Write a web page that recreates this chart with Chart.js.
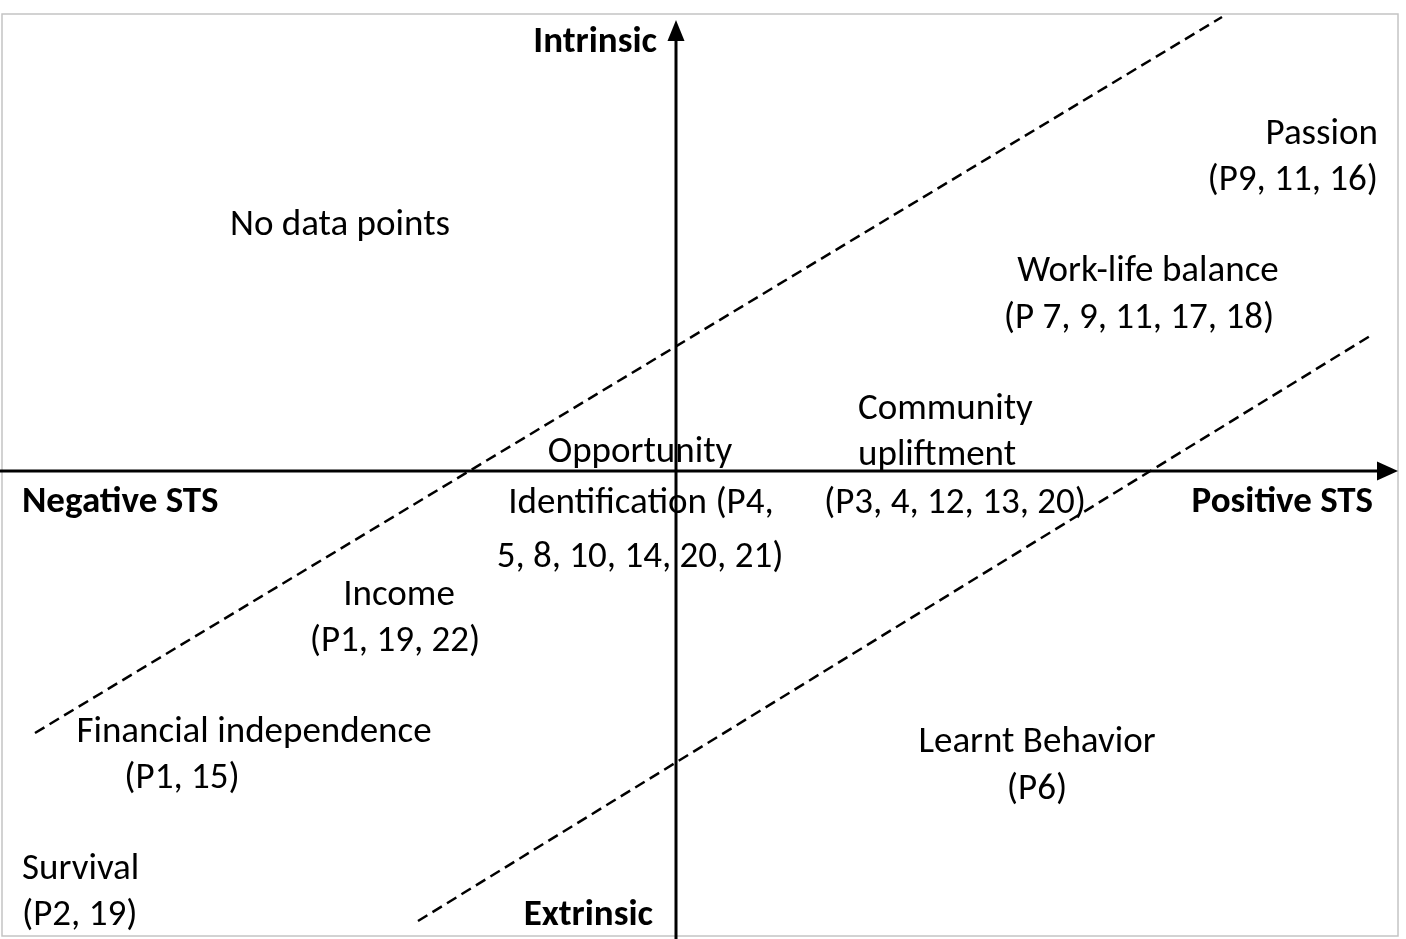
<!DOCTYPE html>
<html>
<head>
<meta charset="utf-8">
<script src="https://cdn.jsdelivr.net/npm/chart.js@4/dist/chart.umd.min.js"></script>
<style>
  html, body { margin: 0; padding: 0; background: #ffffff; }
  #wrap { position: relative; width: 1406px; height: 939px; }
</style>
</head>
<body>
<div id="wrap"><canvas id="c"></canvas></div>
<script>
// ---- Data (conceptual units, origin at the axis crossing) ----
const axisXRange = [-6.76, 7.22];   // horizontal axis: Negative STS -> Positive STS
const axisYRange = [-4.68, 4.51];   // vertical axis: Extrinsic -> Intrinsic
const frameX = [-6.74, 7.22];
const frameY = [-4.65, 4.57];

const upperDividerX = [-6.41, 5.46];
const upperDividerY = [-2.62, 4.54];
const lowerDividerX = [-2.58, 6.94];
const lowerDividerY = [-4.50, 1.35];

const axisTitles = ["Intrinsic", "Negative STS", "Positive STS", "Extrinsic"];
const axisTitleX = [-0.19, -6.54, 6.97, -0.23];
const axisTitleY = [4.28, -0.32, -0.32, -4.45];
const axisTitleAlign = ["right", "left", "right", "right"];

const labelTexts = [
  "No data points",
  "Passion", "(P9, 11, 16)",
  "Work-life balance", "(P 7, 9, 11, 17, 18)",
  "Community", "upliftment", "(P3, 4, 12, 13, 20)",
  "Opportunity", "Identification (P4,", "5, 8, 10, 14, 20, 21)",
  "Income", "(P1, 19, 22)",
  "Financial independence", "(P1, 15)",
  "Learnt Behavior", "(P6)",
  "Survival", "(P2, 19)"
];
const labelX = [
  -3.36,
  7.02, 7.02,
  4.72, 4.63,
  1.82, 1.82, 1.48,
  -0.36, -0.35, -0.36,
  -2.77, -2.81,
  -4.22, -4.94,
  3.61, 3.61,
  -6.54, -6.54
];
const labelY = [
  2.45,
  3.36, 2.90,
  1.99, 1.52,
  0.61, 0.15, -0.33,
  0.18, -0.33, -0.87,
  -1.25, -1.71,
  -2.62, -3.08,
  -2.72, -3.19,
  -3.99, -4.45
];
const labelAlign = [
  "center",
  "right", "right",
  "center", "center",
  "left", "left", "left",
  "center", "center", "center",
  "center", "center",
  "center", "center",
  "center", "center",
  "left", "left"
];

const FONT = "Carlito, Lato, 'Open Sans', sans-serif";

const diagramPlugin = {
  id: 'diagram',
  beforeDatasetsDraw(chart) {
    const {ctx, scales: {x, y}} = chart;
    ctx.save();
    ctx.strokeStyle = '#c4c4c4';
    ctx.lineWidth = 1.5;
    const l = x.getPixelForValue(frameX[0]), r = x.getPixelForValue(frameX[1]);
    const t = y.getPixelForValue(frameY[1]), b = y.getPixelForValue(frameY[0]);
    ctx.strokeRect(l, t, r - l, b - t);
    ctx.restore();
  },
  afterDatasetsDraw(chart) {
    const {ctx, scales: {x, y}} = chart;
    ctx.save();
    // arrowheads
    ctx.fillStyle = '#000';
    const tipX = x.getPixelForValue(axisXRange[1]);
    const oy = y.getPixelForValue(0);
    ctx.beginPath();
    ctx.moveTo(tipX, oy);
    ctx.lineTo(tipX - 21, oy - 9.5);
    ctx.lineTo(tipX - 21, oy + 9.5);
    ctx.closePath();
    ctx.fill();
    const ox = x.getPixelForValue(0);
    const tipY = y.getPixelForValue(axisYRange[1]);
    ctx.beginPath();
    ctx.moveTo(ox, tipY);
    ctx.lineTo(ox - 8.5, tipY + 21);
    ctx.lineTo(ox + 8.5, tipY + 21);
    ctx.closePath();
    ctx.fill();

    ctx.textBaseline = 'middle';
    ctx.fillStyle = '#000';
    ctx.font = "bold 37px " + FONT;
    axisTitles.forEach((s, i) => {
      ctx.textAlign = axisTitleAlign[i];
      ctx.fillText(s, x.getPixelForValue(axisTitleX[i]), y.getPixelForValue(axisTitleY[i]));
    });
    ctx.font = "37px " + FONT;
    labelTexts.forEach((s, i) => {
      ctx.textAlign = labelAlign[i];
      ctx.fillText(s, x.getPixelForValue(labelX[i]), y.getPixelForValue(labelY[i]));
    });
    ctx.restore();
  }
};

const pts = (xs, ys) => xs.map((v, i) => ({x: v, y: ys[i]}));

new Chart(document.getElementById('c'), {
  type: 'scatter',
  data: {
    datasets: [
      { data: pts(upperDividerX, upperDividerY), showLine: true, borderColor: '#000', borderWidth: 2.5, borderDash: [11, 6], pointRadius: 0 },
      { data: pts(lowerDividerX, lowerDividerY), showLine: true, borderColor: '#000', borderWidth: 2.5, borderDash: [11, 6], pointRadius: 0 },
      { data: pts(axisXRange, [0, 0]).map((p, i) => i === 1 ? {x: p.x - 0.15, y: 0} : p), showLine: true, borderColor: '#000', borderWidth: 3, pointRadius: 0 },
      { data: pts([0, 0], axisYRange).map((p, i) => i === 1 ? {x: 0, y: p.y - 0.15} : p), showLine: true, borderColor: '#000', borderWidth: 3, pointRadius: 0 }
    ]
  },
  options: {
    responsive: true,
    maintainAspectRatio: false,
    animation: false,
    layout: { padding: 0 },
    plugins: { legend: { display: false }, tooltip: { enabled: false } },
    scales: {
      x: { type: 'linear', min: -6.76, max: 7.30, display: false },
      y: { type: 'linear', min: -4.68, max: 4.71, display: false }
    }
  },
  plugins: [diagramPlugin]
});
</script>
</body>
</html>
